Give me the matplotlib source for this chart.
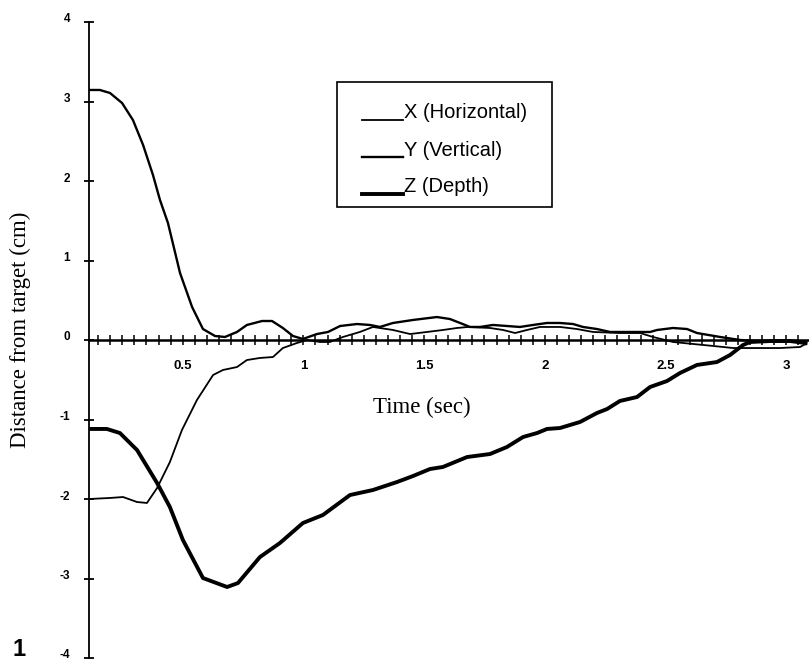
import matplotlib
matplotlib.use("Agg")
import matplotlib.pyplot as plt
import matplotlib.transforms as mtransforms
from matplotlib.lines import Line2D
from matplotlib.patches import Rectangle
from matplotlib.ticker import MultipleLocator

# --- data (time in s, distance in cm) ---
t_x = [0.112, 0.199, 0.253, 0.311, 0.352, 0.394, 0.447, 0.497, 0.559, 0.626,
       0.667, 0.725, 0.766, 0.820, 0.874, 0.915, 0.973, 1.015, 1.069, 1.110,
       1.164, 1.234, 1.288, 1.371, 1.442, 1.512, 1.578, 1.636, 1.682, 1.773,
       1.827, 1.877, 1.926, 1.980, 2.063, 2.133, 2.200, 2.311, 2.394, 2.448,
       2.531, 2.614, 2.697, 2.780, 2.891, 2.974, 3.057, 3.080]
x_horizontal = [-2.000, -1.987, -1.975, -2.038, -2.050, -1.862, -1.535, -1.132, -0.755, -0.440,
                -0.377, -0.340, -0.252, -0.226, -0.214, -0.101, -0.038, 0.000, -0.025, -0.025,
                0.038, 0.101, 0.164, 0.126, 0.075, 0.101, 0.126, 0.151, 0.164, 0.151,
                0.126, 0.088, 0.126, 0.164, 0.164, 0.138, 0.101, 0.088, 0.088, 0.038,
                -0.025, -0.050, -0.075, -0.101, -0.101, -0.101, -0.088, -0.050]

t_y = [0.112, 0.157, 0.199, 0.249, 0.294, 0.336, 0.377, 0.406, 0.439, 0.489,
       0.539, 0.584, 0.634, 0.675, 0.725, 0.766, 0.829, 0.870, 0.915, 0.957,
       0.998, 1.056, 1.102, 1.152, 1.222, 1.276, 1.317, 1.371, 1.454, 1.553,
       1.607, 1.649, 1.690, 1.732, 1.785, 1.843, 1.897, 1.951, 2.009, 2.063,
       2.117, 2.158, 2.216, 2.270, 2.324, 2.436, 2.465, 2.531, 2.589, 2.630,
       2.726, 2.809, 2.891, 2.974, 3.057, 3.080]
y_vertical = [3.145, 3.145, 3.107, 2.981, 2.767, 2.453, 2.075, 1.761, 1.472, 0.843,
              0.415, 0.138, 0.050, 0.038, 0.101, 0.189, 0.239, 0.239, 0.151, 0.050,
              0.013, 0.075, 0.101, 0.176, 0.201, 0.189, 0.164, 0.214, 0.252, 0.289,
              0.264, 0.214, 0.164, 0.164, 0.189, 0.176, 0.164, 0.189, 0.214, 0.214,
              0.201, 0.164, 0.138, 0.101, 0.101, 0.101, 0.126, 0.151, 0.138, 0.088,
              0.038, 0.000, -0.013, -0.013, -0.013, -0.050]

t_z = [0.112, 0.186, 0.240, 0.311, 0.394, 0.447, 0.501, 0.584, 0.684, 0.729,
       0.820, 0.903, 0.998, 1.081, 1.193, 1.288, 1.388, 1.454, 1.524, 1.578,
       1.678, 1.773, 1.843, 1.910, 1.968, 2.009, 2.063, 2.146, 2.216, 2.258,
       2.311, 2.382, 2.436, 2.506, 2.560, 2.630, 2.713, 2.767, 2.821, 2.850,
       2.933, 3.016, 3.080]
z_depth = [-1.119, -1.119, -1.170, -1.384, -1.799, -2.101, -2.516, -2.994, -3.107, -3.057,
           -2.730, -2.553, -2.302, -2.201, -1.950, -1.887, -1.786, -1.711, -1.623, -1.597,
           -1.472, -1.434, -1.346, -1.220, -1.170, -1.119, -1.107, -1.031, -0.918, -0.868,
           -0.767, -0.717, -0.591, -0.516, -0.415, -0.314, -0.277, -0.189, -0.063, -0.025,
           -0.013, -0.013, -0.038]

labels = ["X (Horizontal)", "Y (Vertical)", "Z (Depth)"]
widths = [1.3, 1.7, 2.8]

x_major = [0.5, 1, 1.5, 2, 2.5, 3]
x_major_labels = ["0.5", "1", "1.5", "2", "2.5", "3"]
y_major = [-4, -3, -2, -1, 0, 1, 2, 3, 4]

W, H = 809, 661
fig = plt.figure(figsize=(W / 100, H / 100), dpi=100)
ax = fig.add_axes([89 / W, 3 / H, 719 / W, 636 / H])

ax.plot(t_x, x_horizontal, color="black", lw=widths[0])
ax.plot(t_y, y_vertical, color="black", lw=widths[1])
ax.plot(t_z, z_depth, color="black", lw=widths[2])

ax.set_xlim(0.112, 3.09)
ax.set_ylim(-4, 4)

# axes: y spine on the left, x spine through zero
ax.spines["top"].set_visible(False)
ax.spines["right"].set_visible(False)
ax.spines["bottom"].set_position(("data", 0))
ax.spines["bottom"].set_linewidth(1.8)
ax.spines["left"].set_linewidth(1.3)

ax.set_xticks(x_major)
ax.set_xticklabels(x_major_labels)
ax.xaxis.set_minor_locator(MultipleLocator(0.05))
ax.tick_params(axis="x", which="both", direction="inout", length=7, width=1.1,
               pad=11, labelsize=9.5)
ax.set_yticks(y_major)
ax.set_yticklabels([str(v) for v in y_major])
ax.tick_params(axis="y", direction="inout", length=7, width=1.3, pad=10, labelsize=8.5)
for lab in ax.get_xticklabels() + ax.get_yticklabels():
    lab.set_fontfamily("Liberation Sans")
    lab.set_fontweight("bold")

# y labels sit a few pixels above their ticks in the original
lift = mtransforms.ScaledTranslation(0, 4 / 100, fig.dpi_scale_trans)
for lab in ax.get_yticklabels():
    lab.set_transform(lab.get_transform() + lift)


def fx(px):
    return px / W


def fy(py):
    return 1 - py / H


# axis titles in a Times-like serif
fig.text(fx(20), fy(330), "Distance from target (cm)", rotation=90,
         ha="center", va="center", fontsize=16.5, family="Liberation Serif")
fig.text(fx(422), fy(407), "Time (sec)", ha="center", va="center",
         fontsize=16.5, family="Liberation Serif")
fig.text(fx(19), fy(650), "1", ha="center", va="center", fontsize=17,
         fontweight="bold", family="Liberation Sans")

# legend box drawn by hand: the old chart puts the sample lines on the baseline
fig.patches.append(Rectangle((fx(337), fy(207)), fx(552) - fx(337), fy(82) - fy(207),
                             transform=fig.transFigure, fill=False,
                             edgecolor="black", lw=1.2))
rows = [113, 150, 187]
for lab, lw, row in zip(labels, widths, rows):
    fig.lines.append(Line2D([fx(362), fx(403)], [fy(row + 7), fy(row + 7)],
                            transform=fig.transFigure, color="black", lw=lw))
    fig.text(fx(404), fy(row), lab, ha="left", va="center", fontsize=14.5,
             family="Liberation Sans")

fig.savefig("out.png", dpi=100)
